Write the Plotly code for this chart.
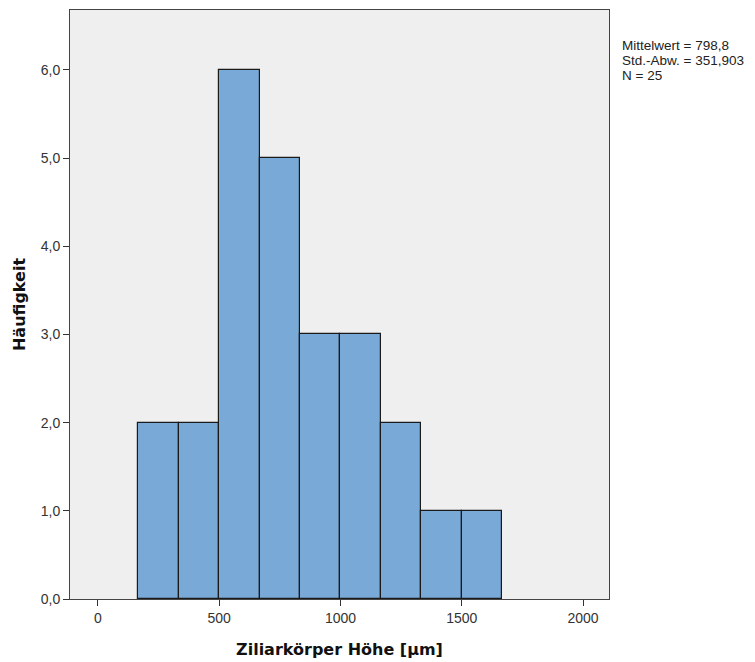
import plotly.graph_objects as go

# Histogram bins (µm) and frequencies
bin_start = 166.667
bin_width = 166.667
counts = [2, 2, 6, 5, 3, 3, 2, 1, 1]
x_ticks = [0, 500, 1000, 1500, 2000]
y_ticks = [0, 1, 2, 3, 4, 5, 6]
stats_text = ["Mittelwert = 798,8", "Std.-Abw. = 351,903", "N = 25"]

centers = [bin_start + bin_width * (i + 0.5) for i in range(len(counts))]

fig = go.Figure(
    go.Bar(
        x=centers,
        y=counts,
        width=[bin_width] * len(counts),
        marker=dict(color="#79a9d6", line=dict(color="#1a1a1a", width=1.2)),
        hoverinfo="x+y",
    )
)

tick_font = dict(family="Arial, Liberation Sans, sans-serif", size=14, color="#333333")
title_font = dict(family="DejaVu Sans, Verdana, sans-serif", size=16, color="#111111")

# Plot area in pixels (used to place the statistics block line by line)
top_px, bottom_px = 10, 599
plot_h = bottom_px - top_px

def paper_y(py):
    return (bottom_px - py) / plot_h

stat_lines_y = [45.0, 60.0, 75.0]
annotations = [
    dict(
        text=line,
        xref="paper",
        yref="paper",
        x=1.0205,
        y=paper_y(py),
        xanchor="left",
        yanchor="middle",
        align="left",
        showarrow=False,
        font=dict(family="Arial, Liberation Sans, sans-serif", size=13.5, color="#222222"),
    )
    for line, py in zip(stats_text, stat_lines_y)
]

fig.update_layout(
    width=755,
    height=662,
    margin=dict(l=70, r=146, t=top_px, b=662 - bottom_px),
    paper_bgcolor="white",
    plot_bgcolor="#efefef",
    separators=",.",
    showlegend=False,
    bargap=0,
    font=dict(family="Arial, Liberation Sans, sans-serif"),
    xaxis=dict(
        range=[-115, 2107],
        tickvals=x_ticks,
        tickformat="d",
        ticks="outside",
        ticklen=6,
        tickcolor="#333333",
        tickfont=tick_font,
        showgrid=False,
        zeroline=False,
        showline=True,
        linecolor="#444444",
        linewidth=1,
        mirror=True,
        automargin=False,
        title=dict(text="<b>Ziliarkörper Höhe [µm]</b>", font=title_font, standoff=19),
    ),
    yaxis=dict(
        range=[0, 6.68],
        tickvals=y_ticks,
        tickformat=".1f",
        ticks="outside",
        ticklen=6,
        tickcolor="#333333",
        tickfont=tick_font,
        showgrid=False,
        zeroline=False,
        showline=True,
        linecolor="#444444",
        linewidth=1,
        mirror=True,
        automargin=False,
        title=dict(text="<b>Häufigkeit</b>", font=title_font, standoff=11),
    ),
    annotations=annotations,
)

fig.write_html("out.html")
